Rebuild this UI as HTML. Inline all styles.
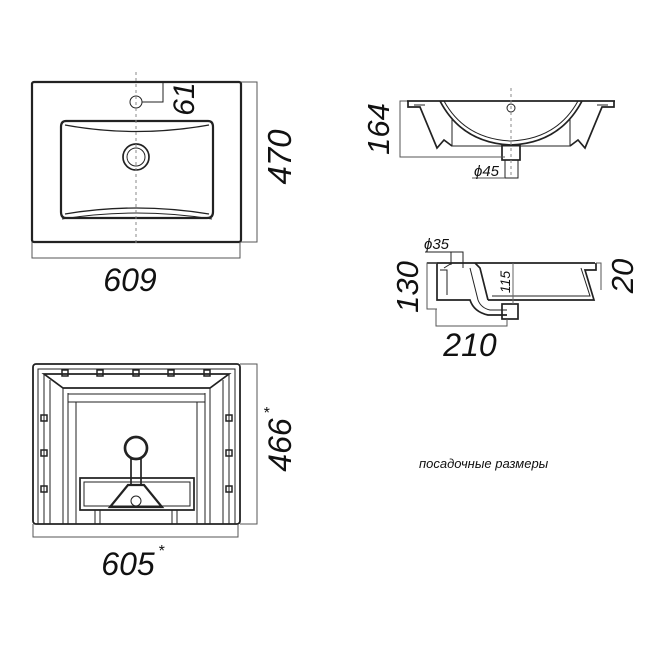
<!DOCTYPE html>
<html><head><meta charset="utf-8"><style>
html,body{margin:0;padding:0;background:#fff;}
svg{display:block;}
text{font-family:"Liberation Sans",Arial,sans-serif;font-style:italic;fill:#111;}
</style></head><body>
<svg width="668" height="668" viewBox="0 0 668 668" xmlns="http://www.w3.org/2000/svg">
<g fill="none" stroke="#222" stroke-width="1">
<!-- TOP VIEW -->
<rect x="32" y="82" width="209" height="160" rx="2" stroke-width="2.2"/>
<path d="M66 121 H208 Q213 121 213 127 V212 Q213 218 207 218 H66 Q61 218 61 212 V127 Q61 121 66 121Z" stroke-width="2.2"/>
<path d="M65 125 Q136 138 209 125" stroke-width="1.3"/>
<path d="M65 214 Q136 202 209 214" stroke-width="1.3"/>
<path d="M62 219 Q136 207 212 219" />
<circle cx="136" cy="102" r="6"/>
<circle cx="136" cy="157" r="13" stroke-width="1.7"/>
<circle cx="136" cy="157" r="9"/>
<line x1="136" y1="72" x2="136" y2="245" stroke-dasharray="3,3" stroke="#888"/>
<polyline points="142,102 163,102 163,82" />
<polyline points="241,82 257,82 257,242 241,242" stroke="#555"/>
<polyline points="32,242 32,258 240,258 240,242" stroke="#555"/>
<!-- SIDE VIEW -->
<line x1="407" y1="101" x2="615" y2="101" stroke-width="1.7"/>
<path d="M408 101 V107 H420 L437 148 L444 140 L452 146" stroke-width="1.7"/>
<path d="M614 101 V107 H602 L585 148 L578 140 L570 146" stroke-width="1.7"/>
<path d="M414 105 H425"/><path d="M608 105 H597"/>
<path d="M440 101 Q462 143 511 145 Q560 143 582 101" stroke-width="1.7"/>
<path d="M444 101 Q465 139 511 141 Q557 139 578 101"/>
<path d="M452 118 V146 H570 V118"/>
<rect x="502" y="145" width="18" height="15" stroke-width="1.7"/>
<polyline points="505,160 505,178 518,178 518,160"/>
<circle cx="511" cy="108" r="4"/>
<line x1="511" y1="88" x2="511" y2="178" stroke-dasharray="3,3" stroke="#888"/>
<polyline points="407,101 400,101 400,157 505,157" stroke="#555"/>
<line x1="472" y1="178" x2="505" y2="178" stroke="#555"/>
<!-- SECTION VIEW -->
<line x1="427" y1="263" x2="595" y2="263" stroke-width="1.7"/>
<path d="M437 263 V300 H470 Q474 312 488 315 H507" stroke-width="1.7"/>
<path d="M475 263 L480 268 L488 300" stroke-width="1.7"/>
<path d="M470 268 L478 300 Q481 308 490 310 H507"/>
<path d="M488 300 H594 L585 270 H596 V263" stroke-width="1.7"/>
<path d="M492 296 H590 L581 268"/>
<path d="M440 270 H447 V295"/>
<path d="M444 268 L452 263 H463 V268"/>
<rect x="502" y="304" width="16" height="15" stroke-width="1.7"/>
<line x1="513" y1="263" x2="513" y2="304" stroke="#666"/>
<polyline points="425,252 463,252 463,265"/>
<line x1="451" y1="252" x2="451" y2="265"/>
<polyline points="437,263 427,263 427,309 437,309" stroke="#555"/>
<polyline points="596,263 601,263 601,290" stroke="#555"/>
<polyline points="436,309 436,326 507,326 507,319" stroke="#555"/>
<!-- BOTTOM VIEW -->
<rect x="33" y="364" width="207" height="160" rx="3" stroke-width="1.8"/>
<rect x="38" y="369" width="197" height="155"/>
<path d="M44 374 H229 L210 388 H63Z" stroke-width="1.7"/>
<path d="M44 374 V524 M50 380 V524 M229 374 V524 M223 380 V524"/>
<path d="M63 388 V524 M68 393 V524 M210 388 V524 M205 393 V524"/>
<rect x="68" y="394" width="137" height="8" />
<path d="M76 402 V524 M197 402 V524"/>
<path d="M80 478 H194 V510 H80Z" stroke-width="1.7"/>
<path d="M84 482 H190 V506 H84Z"/>
<circle cx="136" cy="448" r="11" stroke-width="2.7"/>
<rect x="131" y="459" width="10" height="26" stroke-width="1.7"/>
<path d="M128 485 L110 507 H162 L144 485Z" stroke-width="2.2"/>
<circle cx="136" cy="501" r="5"/>
<path d="M95 510 V524 M100 510 V524 M172 510 V524 M177 510 V524"/>
<g stroke-width="1.5">
<rect x="62" y="370" width="6" height="6"/><rect x="97" y="370" width="6" height="6"/><rect x="133" y="370" width="6" height="6"/><rect x="168" y="370" width="6" height="6"/><rect x="204" y="370" width="6" height="6"/>
<rect x="41" y="415" width="6" height="6"/><rect x="41" y="450" width="6" height="6"/><rect x="41" y="486" width="6" height="6"/>
<rect x="226" y="415" width="6" height="6"/><rect x="226" y="450" width="6" height="6"/><rect x="226" y="486" width="6" height="6"/>
</g>
<polyline points="240,364 257,364 257,524 240,524" stroke="#555"/>
<polyline points="33,524 33,537 238,537 238,524" stroke="#555"/>
</g>
<!-- TEXT -->
<text x="130" y="291" font-size="32" text-anchor="middle">609</text>
<text transform="translate(291,157) rotate(-90)" font-size="33" text-anchor="middle">470</text>
<text transform="translate(194,99) rotate(-90)" font-size="30" text-anchor="middle">61</text>
<text transform="translate(389,129) rotate(-90)" font-size="31" text-anchor="middle">164</text>
<text x="474" y="176" font-size="15">ϕ45</text>
<text x="424" y="249" font-size="15">ϕ35</text>
<text transform="translate(418,287) rotate(-90)" font-size="31" text-anchor="middle">130</text>
<text transform="translate(633,276) rotate(-90)" font-size="31" text-anchor="middle">20</text>
<text transform="translate(510,282) rotate(-90)" font-size="14" text-anchor="middle">115</text>
<text x="470" y="356" font-size="32" text-anchor="middle">210</text>
<text transform="translate(291,445) rotate(-90)" font-size="32" text-anchor="middle">466</text>
<text x="263" y="418" font-size="16">*</text>
<text x="128" y="575" font-size="32" text-anchor="middle">605</text>
<text x="158" y="556" font-size="16">*</text>
<text x="419" y="468" font-size="13" style="font-family:'Liberation Sans','DejaVu Sans',sans-serif">посадочные размеры</text>
</svg>
</body></html>
